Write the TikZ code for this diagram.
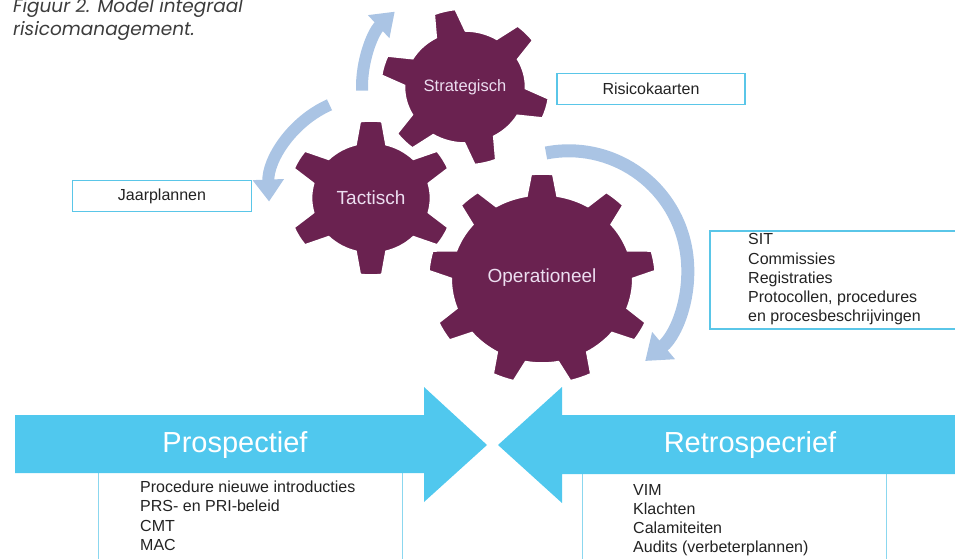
\documentclass[tikz,border=0pt]{standalone}
\usepackage{fontspec}
\setmainfont{Liberation Sans}
\newfontfamily\capfont{Poppins}
\usetikzlibrary{arrows.meta,calc}

\definecolor{gearplum}{RGB}{106,34,80}
\definecolor{gearink}{RGB}{236,222,240}
\definecolor{turnblue}{RGB}{170,196,228}
\definecolor{flowcyan}{RGB}{80,200,238}
\definecolor{boxcyan}{RGB}{90,198,232}
\definecolor{listink}{RGB}{35,35,35}
\definecolor{capink}{RGB}{60,60,60}

% gear outline: centre, teeth, body radius, tip radius, phase
\newcommand{\drawgear}[5]{%
  \pgfmathsetmacro{\gstep}{360/#2}%
  \pgfmathsetmacro{\gbase}{14/#3*57.3}%
  \pgfmathsetmacro{\gtip}{10/#4*57.3}%
  \filldraw[gearbody,shift={(#1)},xscale=1.08] ({#5-\gstep+\gbase}:#3)
    \foreach \k in {1,...,#2}{
      arc[start angle={#5+(\k-2)*\gstep+\gbase}, end angle={#5+(\k-1)*\gstep-\gbase}, radius=#3]
      -- ({#5+(\k-1)*\gstep-\gtip}:#4)
      arc[start angle={#5+(\k-1)*\gstep-\gtip}, end angle={#5+(\k-1)*\gstep+\gtip}, radius=#4]
      -- ({#5+(\k-1)*\gstep+\gbase}:#3)
    } -- cycle;
}

\begin{document}
\begin{tikzpicture}[x=1pt,y=1pt,
    gearbody/.style = {fill=gearplum, draw=white, line width=1.5pt},
    gearlabel/.style = {text=gearink, font=\fontsize{19}{22}\selectfont},
    turnarrow/.style = {draw=turnblue, line width=12pt, -{Triangle[length=22pt,width=30pt]}},
    tagbox/.style = {draw=boxcyan, line width=1.8pt, fill=white, text=listink,
                     font=\fontsize{16}{19}\selectfont, minimum height=31, inner sep=0},
    listtext/.style = {text=listink, font=\fontsize{16}{19.2}\selectfont, align=left,
                       inner sep=0, anchor=north west},
    bottombox/.style = {draw=boxcyan!70, line width=1.2pt, fill=white, anchor=north west,
                        inner sep=0, minimum width=304, minimum height=100},
    flow/.style = {fill=flowcyan},
    flowlabel/.style = {text=white, font=\fontsize{29}{34}\selectfont}
  ]
  \useasboundingbox (0,0) rectangle (955,558);

  % caption
  \node[text=capink, font=\capfont\itshape\fontsize{18.5}{22.5}\selectfont, align=left,
        inner sep=0, anchor=north west] (caption) at (13,559.5)
        {Figuur 2. Model integraal\\risicomanagement.};

  % gears
  \drawgear{465,471}{6}{56}{78}{104}
  \node[gearlabel, font=\fontsize{16.5}{20}\selectfont] (strat) at (465,471) {Strategisch};
  \drawgear{371,360}{6}{55}{77}{90}
  \node[gearlabel] (tact) at (371,360) {Tactisch};
  \drawgear{542,279}{9}{84}{105}{90}
  \node[gearlabel] (oper) at (542,280) {Operationeel};

  % turning arrows
  \draw[turnarrow] ([shift={(182:103)}]strat.center) arc[start angle=182, end angle=133, radius=103];
  \draw[turnarrow] ([shift={(114:102)}]tact.center) arc[start angle=114, end angle=182, radius=102];
  \coordinate (opturn) at (546,405);
  \draw[turnarrow, line width=13pt, -{Triangle[length=24pt,width=34pt]}]
    (opturn) arc[start angle=101, end angle=-50, radius=119];

  % tags
  \node[tagbox, minimum width=188] (risico) at (651,469) {Risicokaarten};
  \node[tagbox, minimum width=179] (jaar) at (162,362) {Jaarplannen};
  \node[tagbox, anchor=north west, minimum width=260, minimum height=98] (opbox) at (709,328) {};
  \node[listtext] (oplist) at (748,324.5)
    {SIT\\Commissies\\Registraties\\Protocollen, procedures\\en procesbeschrijvingen};

  % bottom lists
  \node[bottombox] (prospbox) at (98,90) {};
  \node[bottombox] (retrobox) at (582,90) {};

  % big arrows
  \fill[flow] (15,143) -- (424,143) -- (424,171) -- (487,113) -- (424,56) -- (424,85) -- (15,85) -- cycle;
  \fill[flow] (960,143) -- (562,143) -- (562,171) -- (498,113) -- (562,55) -- (562,84) -- (960,84) -- cycle;
  \node[flowlabel] (prosp) at (235,113) {Prospectief};
  \node[flowlabel] (retro) at (750,113) {Retrospecrief};

  \node[listtext] (prosplist) at (140,77)
    {Procedure nieuwe introducties\\PRS- en PRI-beleid\\CMT\\MAC};
  \node[listtext] (retrolist) at (633,74)
    {VIM\\Klachten\\Calamiteiten\\Audits (verbeterplannen)};
\end{tikzpicture}
\end{document}
